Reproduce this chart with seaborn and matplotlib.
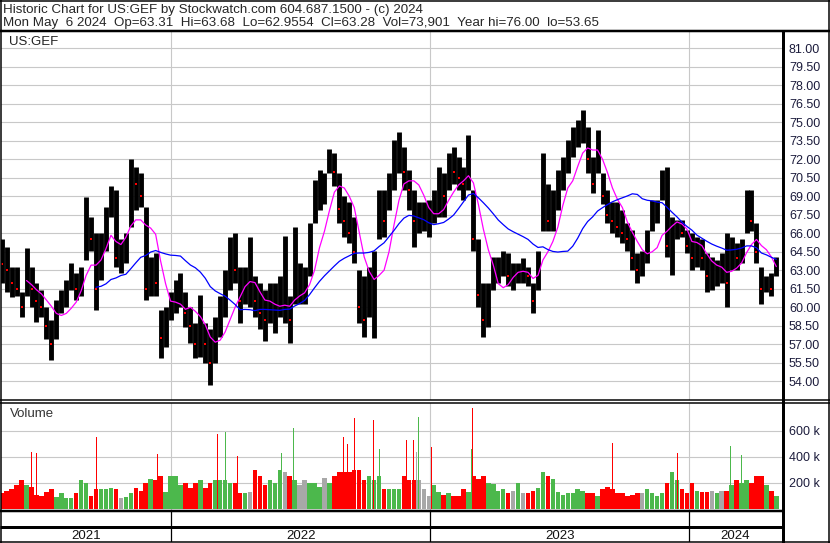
import numpy as np
import pandas as pd
import matplotlib
matplotlib.use('Agg')
import matplotlib.pyplot as plt
import matplotlib.dates as mdates
from matplotlib.lines import Line2D
import seaborn as sns

sns.set_style('white')
plt.rcParams['font.family'] = ['Liberation Sans', 'DejaVu Sans']

# ---------------- data (weekly) ----------------
first_week = '2021-05-07'
week_high = [65.5, 64.9, 63.3, 63.3, 61.2, 64.8, 63.3, 62.0, 61.4, 60.0,
             59.0, 60.6, 61.4, 62.2, 63.6, 62.8, 63.3, 68.9, 67.3, 66.0,
             66.0, 68.1, 69.8, 69.5, 65.5, 66.0, 72.0, 71.4, 70.9, 68.1,
             64.1, 64.4, 59.8, 60.0, 61.2, 62.2, 62.8, 61.2, 60.0, 58.7,
             61.0, 58.7, 58.2, 59.2, 60.9, 63.0, 65.7, 66.0, 63.3, 63.3,
             65.7, 62.5, 62.0, 61.4, 62.0, 62.0, 62.5, 65.8, 60.9, 66.5,
             63.6, 63.3, 66.8, 70.3, 71.1, 70.9, 72.8, 72.5, 70.9, 69.0,
             68.5, 67.3, 63.0, 62.5, 63.3, 64.6, 69.5, 69.5, 70.9, 73.6,
             74.2, 73.0, 71.1, 69.5, 68.5, 68.5, 68.7, 69.5, 71.4, 70.9,
             72.5, 73.0, 72.2, 71.4, 74.0, 69.5, 65.5, 62.0, 62.0, 64.1,
             64.1, 64.6, 64.4, 63.6, 63.6, 64.0, 63.3, 62.0, 64.6, 72.5,
             70.0, 69.5, 71.1, 72.2, 73.6, 74.6, 75.2, 76.0, 74.6, 72.2,
             74.4, 70.9, 69.5, 68.5, 68.5, 67.9, 66.8, 66.3, 64.4, 64.6,
             66.3, 68.7, 68.7, 71.1, 71.4, 67.3, 67.1, 67.1, 66.3, 66.0,
             65.7, 65.5, 64.4, 64.1, 63.8, 64.4, 66.0, 65.7, 65.2, 65.5,
             69.5, 69.5, 66.8, 63.3, 62.5, 62.8, 64.1]
week_low = [62.0, 61.2, 60.8, 60.9, 59.2, 60.9, 60.0, 58.8, 59.2, 57.4,
            55.7, 57.4, 59.5, 60.0, 61.4, 60.6, 60.9, 63.8, 64.6, 59.8,
            62.2, 64.6, 67.3, 63.3, 62.8, 63.6, 66.5, 67.9, 68.1, 60.6,
            60.9, 60.9, 55.9, 56.8, 59.0, 59.5, 60.0, 58.4, 57.1, 55.9,
            56.0, 55.5, 53.7, 55.5, 57.6, 59.2, 61.4, 62.0, 58.7, 60.3,
            60.0, 59.2, 58.2, 57.3, 58.7, 57.9, 59.2, 58.7, 57.1, 60.3,
            60.3, 60.3, 62.5, 66.8, 67.9, 68.4, 70.9, 69.8, 66.8, 65.7,
            65.2, 63.6, 58.7, 57.6, 59.2, 57.5, 65.5, 65.7, 67.9, 69.5,
            70.9, 69.5, 67.9, 64.9, 66.0, 66.2, 65.7, 66.8, 67.3, 67.3,
            69.5, 70.0, 69.5, 68.7, 69.5, 64.6, 60.0, 57.6, 58.4, 61.4,
            62.0, 62.5, 61.7, 61.4, 62.0, 62.0, 61.7, 59.5, 61.4, 66.2,
            66.2, 66.2, 67.9, 69.5, 70.9, 72.2, 73.0, 73.3, 70.9, 69.3,
            70.9, 68.4, 66.8, 66.0, 65.7, 65.2, 64.6, 63.0, 62.0, 62.5,
            63.6, 66.2, 66.8, 68.7, 64.1, 62.6, 65.5, 65.7, 64.4, 63.0,
            63.3, 63.0, 61.2, 61.4, 61.7, 62.0, 60.0, 63.0, 63.0, 63.6,
            66.0, 66.2, 63.6, 60.3, 61.2, 60.9, 62.5]
week_close = [63.5, 63.0, 62.0, 61.5, 60.0, 63.0, 61.5, 60.5, 60.0, 58.5,
              57.0, 59.5, 60.5, 61.5, 62.5, 61.5, 62.5, 67.0, 65.5, 61.5,
              65.0, 67.0, 69.0, 64.0, 64.0, 65.0, 70.5, 70.0, 69.0, 61.5,
              62.5, 62.0, 57.5, 59.0, 60.5, 61.0, 61.5, 59.5, 58.5, 57.0,
              58.0, 57.0, 55.5, 57.0, 59.5, 61.0, 64.0, 63.0, 60.5, 62.0,
              62.0, 60.5, 59.5, 59.0, 60.0, 60.5, 61.0, 61.0, 59.0, 62.0,
              62.0, 62.0, 65.0, 68.0, 70.0, 70.0, 72.0, 71.0, 68.0, 67.0,
              66.0, 64.5, 60.0, 59.0, 61.0, 63.0, 68.0, 67.0, 69.0, 72.0,
              73.0, 71.0, 69.5, 67.0, 67.0, 67.0, 67.0, 68.0, 69.5, 69.0,
              71.5, 71.0, 70.5, 70.0, 72.0, 65.5, 61.0, 59.0, 60.5, 62.5,
              63.0, 63.5, 62.5, 62.5, 63.0, 63.0, 62.5, 60.5, 64.0, 70.0,
              67.0, 68.0, 69.5, 71.0, 72.5, 73.5, 74.0, 74.5, 72.0, 70.0,
              72.5, 69.0, 67.5, 67.0, 66.5, 66.0, 65.5, 64.0, 63.0, 63.0,
              64.5, 67.0, 67.5, 70.0, 65.0, 65.5, 66.5, 66.0, 65.0, 64.0,
              64.5, 64.0, 62.5, 62.5, 63.0, 63.0, 62.0, 64.5, 64.0, 65.0,
              68.0, 67.0, 64.5, 61.5, 62.0, 61.5, 63.28]
# typical daily volume of each week, thousands of shares
week_volume_k = [120, 140, 150, 180, 220, 180, 170, 110, 100, 130,
                 150, 90, 120, 85, 80, 120, 220, 200, 100, 150,
                 150, 150, 160, 150, 80, 90, 120, 160, 140, 200,
                 230, 220, 250, 130, 250, 250, 180, 200, 160, 200,
                 220, 160, 200, 220, 220, 220, 200, 200, 120, 120,
                 130, 300, 250, 180, 220, 200, 300, 280, 250, 220,
                 180, 220, 200, 200, 170, 240, 200, 250, 280, 280,
                 280, 300, 300, 220, 250, 220, 250, 150, 150, 150,
                 150, 250, 220, 220, 220, 150, 100, 180, 130, 110,
                 120, 100, 100, 150, 130, 250, 230, 250, 200, 190,
                 140, 150, 120, 140, 200, 120, 120, 140, 160, 280,
                 250, 230, 130, 110, 120, 120, 150, 140, 120, 120,
                 100, 150, 170, 150, 120, 120, 100, 110, 120, 120,
                 150, 120, 100, 120, 200, 280, 220, 150, 120, 200,
                 140, 130, 130, 140, 120, 140, 140, 180, 220, 200,
                 220, 200, 250, 250, 180, 140, 100]
# single heavy-volume days
spike_dates = ['2021-06-18', '2021-06-25', '2021-09-17', '2021-12-13',
               '2022-03-07', '2022-03-18', '2022-04-04', '2022-06-06',
               '2022-06-23', '2022-09-01', '2022-09-07', '2022-09-16',
               '2022-10-13', '2022-10-21', '2022-11-29', '2022-12-09',
               '2022-12-13', '2022-12-16', '2023-01-03', '2023-02-28',
               '2023-03-02', '2023-09-15', '2023-12-15', '2024-02-28',
               '2024-03-15']
spike_volume_k = [437, 425, 548, 419, 574, 592, 406, 432, 619, 548, 497, 695,
                  685, 463, 526, 526, 437, 704, 475, 462, 773, 509, 429, 485,
                  416]
spike_dir = [-1, -1, -1, -1, -1, 1, -1, 1, 1, -1, -1, -1,
             -1, 1, -1, -1, 0, 1, -1, 1, -1, -1, -1, 1, 1]

price_ticks = [54.00, 55.50, 57.00, 58.50, 60.00, 61.50, 63.00, 64.50, 66.00,
               67.50, 69.00, 70.50, 72.00, 73.50, 75.00, 76.50, 78.00, 79.50,
               81.00]
volume_ticks_k = [200, 400, 600]
year_labels = ['2021', '2022', '2023', '2024']
year_starts = ['2022-01-01', '2023-01-01', '2024-01-01']
view_start, view_end = '2021-05-06', '2024-05-11'
fast_ma_weeks = 6
slow_ma_weeks = 20
ticker = 'US:GEF'
header_1 = 'Historic Chart for US:GEF by Stockwatch.com 604.687.1500 - (c) 2024'
header_2 = ('Mon May  6 2024  Op=63.31  Hi=63.68  Lo=62.9554  Cl=63.28  '
            'Vol=73,901  Year hi=76.00  lo=53.65')

# ---------------- frame ----------------
W, H = 830, 543
fig = plt.figure(figsize=(W / 100, H / 100), dpi=100)
fig.patch.set_facecolor('white')


def box(x0, y0, x1, y1):
    return [x0 / W, 1 - y1 / H, (x1 - x0) / W, (y1 - y0) / H]


def fline(xs, ys, lw_px):
    fig.add_artist(Line2D([x / W for x in xs], [1 - y / H for y in ys],
                          transform=fig.transFigure, color='black',
                          linewidth=lw_px * 0.72, solid_capstyle='butt'))


dates = pd.date_range(first_week, periods=len(week_close), freq='7D')
df = pd.DataFrame({'date': dates, 'high': week_high, 'low': week_low,
                   'close': week_close, 'vol': week_volume_k})
df['fast'] = df['close'].rolling(fast_ma_weeks).mean()
df['slow'] = df['close'].rolling(slow_ma_weeks).mean()
chg = df['close'].diff().fillna(0)
df['dir'] = np.sign(chg)
df.loc[0, 'dir'] = -1

grid_c = '#c8c8c8'
red, green, grey = '#ff0000', '#4cb84c', '#a8a8a8'
dir_color = {1: green, -1: red, 0: grey}
xlim = (mdates.date2num(pd.Timestamp(view_start)), mdates.date2num(pd.Timestamp(view_end)))
year_nums = [mdates.date2num(pd.Timestamp(d)) for d in year_starts]

# price panel
ax = fig.add_axes(box(1, 31, 782, 399.5))
ax.set_xlim(xlim)
ax.set_ylim(52.52, 82.40)
for t in price_ticks:
    ax.axhline(t, color=grid_c, lw=0.8, zorder=0)
for yn in year_nums:
    ax.axvline(yn, color=grid_c, lw=0.8, zorder=0)
ax.vlines(df['date'], df['low'], df['high'], color='black', lw=3.5, zorder=2)
down = df[df['dir'] < 0]
ax.scatter(down['date'], down['close'], s=2.5, marker='s', color=red,
           linewidths=0, zorder=3)
sns.lineplot(data=df, x='date', y='fast', ax=ax, color='#ff00ff', lw=0.9, zorder=4)
sns.lineplot(data=df, x='date', y='slow', ax=ax, color='#0000ff', lw=0.9, zorder=4)
ax.set_xlabel('')
ax.set_ylabel('')
ax.yaxis.tick_right()
ax.set_yticks(price_ticks)
ax.set_yticklabels([f'{t:.2f}' for t in price_ticks])
ax.tick_params(axis='y', length=0, pad=5, labelsize=9, labelcolor='#1c1c3c')
ax.tick_params(axis='x', bottom=False, labelbottom=False)
for s in ax.spines.values():
    s.set_visible(False)
ax.text(8 / 781, 1 - 11 / 368.5, ticker, transform=ax.transAxes, fontsize=9.5,
        va='center', ha='left', color='#222222')

# volume panel
axv = fig.add_axes(box(1, 403, 782, 510.5))
axv.set_xlim(xlim)
axv.set_ylim(-12, 812)
for t in volume_ticks_k:
    axv.axhline(t, color=grid_c, lw=0.8, zorder=0)
for yn in year_nums:
    axv.axvline(yn, color=grid_c, lw=0.8, zorder=0)
axv.bar(df['date'], df['vol'], width=6.3,
        color=[dir_color[int(d)] for d in df['dir']], linewidth=0, zorder=2)
axv.bar(pd.to_datetime(spike_dates), spike_volume_k, width=1.4,
        color=[dir_color[d] for d in spike_dir], linewidth=0, zorder=3)
axv.yaxis.tick_right()
axv.set_yticks(volume_ticks_k)
axv.set_yticklabels([f'{t} k' for t in volume_ticks_k])
axv.tick_params(axis='y', length=0, pad=5, labelsize=9, labelcolor='#1c1c3c')
axv.tick_params(axis='x', bottom=False, labelbottom=False)
for s in axv.spines.values():
    s.set_visible(False)
axv.text(9 / 781, 1 - 11 / 107.5, 'Volume', transform=axv.transAxes, fontsize=9.5,
         va='center', ha='left', color='#333333')

# date band
axd = fig.add_axes(box(1, 511, 782, 542))
axd.set_xlim(xlim)
axd.set_ylim(0, 1)
axd.axis('off')
bounds = [xlim[0]] + year_nums + [xlim[1]]
for yn in year_nums:
    axd.axvline(yn, color='black', lw=0.9)
for i, lab in enumerate(year_labels):
    axd.text((bounds[i] + bounds[i + 1]) / 2, 0.2, lab, ha='center', va='center',
             fontsize=9.5, color='#111111')

# header
fig.text(3 / W, 1 - 9.5 / H, header_1, fontsize=9.6, va='center', ha='left')
fig.text(3 / W, 1 - 23 / H, header_2, fontsize=9.6, va='center', ha='left')

# rules
fline([0.7, 0.7], [0, H], 1.5)
fline([W - 0.7, W - 0.7], [0, H], 1.5)
fline([0, W], [0.7, 0.7], 1.5)
fline([0, W], [H - 0.8, H - 0.8], 1.5)
fline([0, W], [30.5, 30.5], 2.5)
fline([783, 783], [30.5, H], 3)
fline([0, W], [400, 400], 1.5)
fline([0, W], [402.8, 402.8], 1.5)
fline([0, 783], [510.8, 510.8], 2.5)
fline([0, 783], [527, 527], 3)

fig.savefig('out.png', dpi=100, facecolor='white')
